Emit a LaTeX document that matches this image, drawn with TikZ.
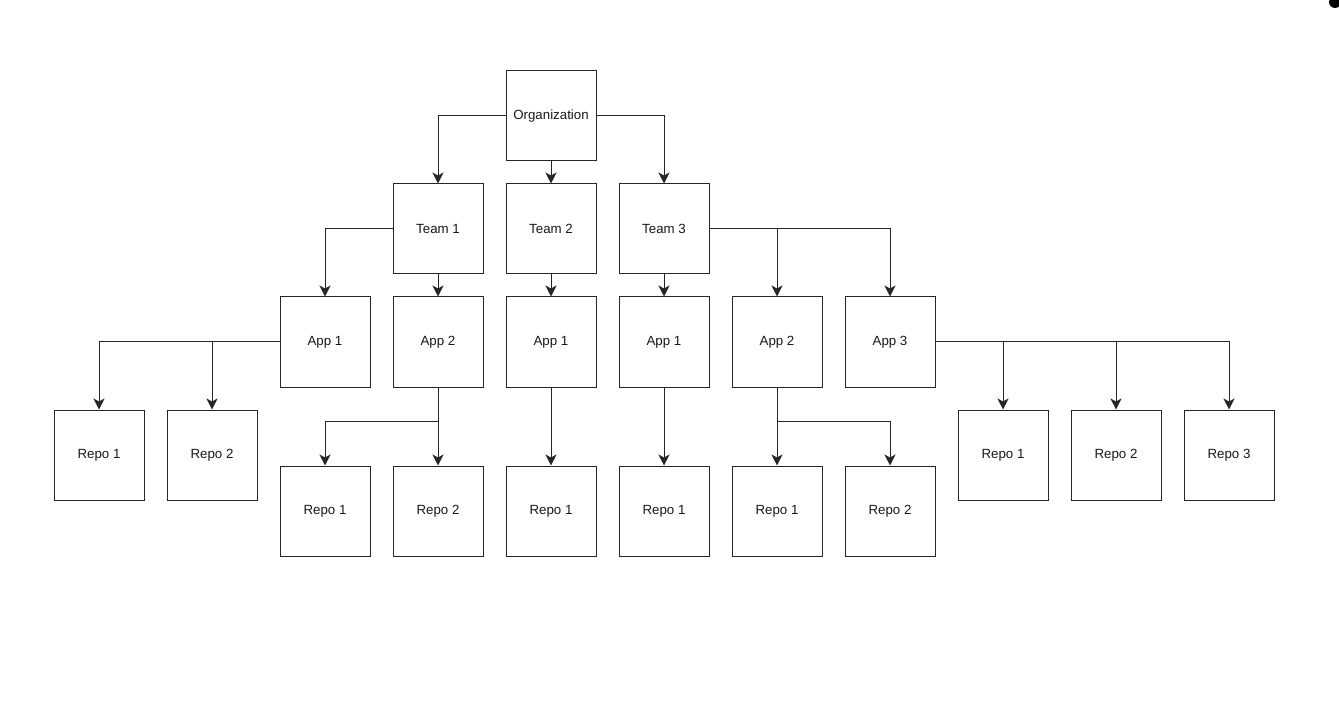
\documentclass[tikz,border=0pt]{standalone}
\usepackage{fontspec}
\setmainfont{Liberation Sans}
\usetikzlibrary{arrows.meta}
\begin{document}
\begin{tikzpicture}[x=1pt,y=-1pt,
  box/.style={draw=black!85,line width=1pt,minimum width=90pt,minimum height=90pt,inner sep=0pt,font=\fontsize{13.3}{15}\selectfont,text=black!90},
  conn/.style={draw=black!85,line width=1pt,-{Stealth[length=11pt,width=11pt,inset=3pt]}}]
\useasboundingbox (0,0) rectangle (1339,703);
\fill[white] (0,0) rectangle (1339,703);
\begin{scope}
\clip (0,0) rectangle (1339,703);
\fill[black] (1335,2) circle (6pt);
\end{scope}
% level 0
\node[box] (org) at (551,116) {Organization};
% level 1
\node[box] (t1) at (438,229) {Team 1};
\node[box] (t2) at (551,229) {Team 2};
\node[box] (t3) at (664,229) {Team 3};
% level 2
\node[box] (a11) at (325,342) {App 1};
\node[box] (a12) at (438,342) {App 2};
\node[box] (a21) at (551,342) {App 1};
\node[box] (a31) at (664,342) {App 1};
\node[box] (a32) at (777,342) {App 2};
\node[box] (a33) at (890,342) {App 3};
% level 3
\node[box] (r111) at (99,455) {Repo 1};
\node[box] (r112) at (212,455) {Repo 2};
\node[box] (r121) at (325,511) {Repo 1};
\node[box] (r122) at (438,511) {Repo 2};
\node[box] (r211) at (551,511) {Repo 1};
\node[box] (r311) at (664,511) {Repo 1};
\node[box] (r321) at (777,511) {Repo 1};
\node[box] (r322) at (890,511) {Repo 2};
\node[box] (r331) at (1003,455) {Repo 1};
\node[box] (r332) at (1116,455) {Repo 2};
\node[box] (r333) at (1229,455) {Repo 3};
% connectors
\draw[conn] (org.west) -| (t1.north);
\draw[conn] (org.south) -- (t2.north);
\draw[conn] (org.east) -| (t3.north);
\draw[conn] (t1.west) -| (a11.north);
\draw[conn] (t1.south) -- (a12.north);
\draw[conn] (t2.south) -- (a21.north);
\draw[conn] (t3.south) -- (a31.north);
\draw[conn] (t3.east) -| (a32.north);
\draw[conn] (t3.east) -| (a33.north);
\draw[conn] (a11.west) -| (r111.north);
\draw[conn] (a11.west) -| (r112.north);
\draw[conn] (a12.south) -- ++(0,34) -| (r121.north);
\draw[conn] (a12.south) -- (r122.north);
\draw[conn] (a21.south) -- (r211.north);
\draw[conn] (a31.south) -- (r311.north);
\draw[conn] (a32.south) -- (r321.north);
\draw[conn] (a32.south) -- ++(0,34) -| (r322.north);
\draw[conn] (a33.east) -| (r331.north);
\draw[conn] (a33.east) -| (r332.north);
\draw[conn] (a33.east) -| (r333.north);
\end{tikzpicture}
\end{document}
